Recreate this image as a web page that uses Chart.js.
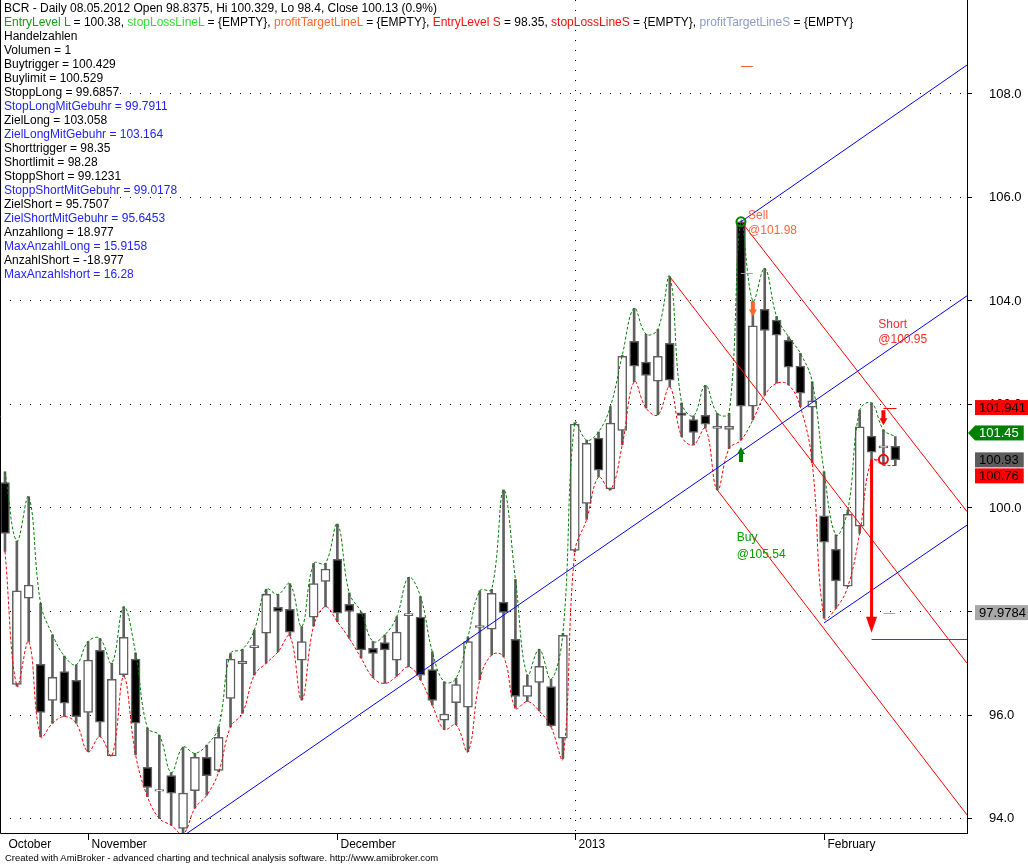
<!DOCTYPE html>
<html>
<head>
<meta charset="utf-8">
<title>BCR - Daily</title>
<script src="https://cdn.jsdelivr.net/npm/chart.js@4.4.0/dist/chart.umd.min.js"></script>
<style>
    html, body { margin: 0; padding: 0; background: #fff; }
    #wrap { position: relative; width: 1028px; height: 865px; overflow: hidden; font-family: "Liberation Sans", Arial, sans-serif; }
    #chart { position: absolute; left: 0; top: 0; }
    #info { position: absolute; left: 4px; top: 1px; font-size: 12px; line-height: 14px; color: #000; white-space: nowrap; }
    #info span.t { background: #fff; }
    .blue { color: #2323ff; }
    #footer { position: absolute; left: 5px; top: 852px; font-size: 9px; line-height: 12px; white-space: nowrap; transform-origin: left top; }
</style>
</head>
<body>
<div id="wrap">
    <canvas id="chart" width="1028" height="865"></canvas>
    <div id="info">
        <div><span class="t">BCR - Daily 08.05.2012 Open 98.8375, Hi 100.329, Lo 98.4, Close 100.13 (0.9%)</span></div>
        <div><span class="t"><span style="color:#12a012">EntryLevel L</span> = 100.38, <span style="color:#2ee02e">stopLossLineL</span> = {EMPTY}, <span style="color:#ff6a2a">profitTargetLineL</span> = {EMPTY}, <span style="color:#ff1010">EntryLevel S</span> = 98.35, <span style="color:#ee1010">stopLossLineS</span> = {EMPTY}, <span style="color:#8c9cc4">profitTargetLineS</span> = {EMPTY}</span></div>
        <div><span class="t">Handelzahlen</span></div>
        <div><span class="t">Volumen = 1</span></div>
        <div><span class="t">Buytrigger = 100.429</span></div>
        <div><span class="t">Buylimit = 100.529</span></div>
        <div><span class="t">StoppLong = 99.6857</span></div>
        <div><span class="t blue">StopLongMitGebuhr = 99.7911</span></div>
        <div><span class="t">ZielLong = 103.058</span></div>
        <div><span class="t blue">ZielLongMitGebuhr = 103.164</span></div>
        <div><span class="t">Shorttrigger = 98.35</span></div>
        <div><span class="t">Shortlimit = 98.28</span></div>
        <div><span class="t">StoppShort = 99.1231</span></div>
        <div><span class="t blue">StoppShortMitGebuhr = 99.0178</span></div>
        <div><span class="t">ZielShort = 95.7507</span></div>
        <div><span class="t blue">ZielShortMitGebuhr = 95.6453</span></div>
        <div><span class="t">Anzahllong = 18.977</span></div>
        <div><span class="t blue">MaxAnzahlLong = 15.9158</span></div>
        <div><span class="t">AnzahlShort = -18.977</span></div>
        <div><span class="t blue">MaxAnzahlshort = 16.28</span></div>
    </div>
    <div id="footer">Created with AmiBroker - advanced charting and technical analysis software. http://www.amibroker.com</div>
</div>

<script>
// ---- daily bars, Oct 2012 .. Feb 2013 (index = trading day) ----
const openP = [
    100.49, 96.59, 98.26, 96.98, 96.28, 96.84, 96.67, 96.05, 97.25, 95.21,
    96.78, 97.08, 94.99, 94.53, 94.83, 93.81, 94.54, 95.18, 94.93, 96.32,
    96.99, 97.30, 97.58, 98.08, 98.04, 97.06, 97.89, 98.58, 99.01, 98.14,
    97.97, 97.29, 97.40, 97.06, 97.92, 97.89, 96.88, 95.90, 96.24, 96.15,
    97.69, 97.66, 98.18, 97.46, 96.36, 96.63, 96.55, 95.55, 99.18, 100.09,
    101.35, 100.37, 101.50, 103.22, 102.82, 102.45, 103.18, 101.84, 101.71, 101.79,
    101.54, 101.52, 105.53, 101.97, 103.84, 103.63, 103.24, 102.74, 101.95, 99.85,
    99.20, 98.49, 99.65, 101.39, 101.16, 101.19
];
const highP = [
    100.70, 99.36, 100.22, 98.16, 97.55, 97.14, 96.97, 97.42, 97.48, 97.00,
    98.09, 97.20, 95.75, 95.61, 94.89, 95.38, 95.26, 95.42, 95.77, 97.19,
    97.27, 97.64, 98.43, 98.33, 98.54, 97.71, 98.93, 98.93, 99.69, 98.36,
    97.99, 97.42, 97.55, 97.90, 98.66, 98.29, 97.22, 96.64, 96.71, 97.51,
    98.40, 98.43, 100.35, 98.62, 96.77, 97.27, 96.69, 97.58, 101.65, 101.31,
    101.47, 101.96, 102.95, 103.86, 103.36, 103.45, 104.47, 102.03, 101.78, 102.37,
    101.83, 101.83, 105.54, 104.00, 104.63, 103.70, 103.31, 102.99, 102.44, 100.70,
    99.48, 99.96, 101.89, 102.03, 101.51, 101.38
];
const lowP = [
    99.16, 96.56, 97.42, 95.58, 95.84, 95.97, 95.84, 95.29, 95.58, 95.21,
    96.74, 95.23, 94.42, 94.00, 93.87, 93.70, 94.20, 94.45, 94.90, 95.77,
    96.03, 96.77, 97.00, 97.22, 97.53, 96.29, 97.72, 98.09, 97.80, 97.48,
    97.10, 96.72, 96.61, 96.75, 96.93, 96.68, 96.19, 95.72, 95.81, 95.29,
    96.68, 97.16, 97.13, 96.13, 96.26, 96.08, 95.77, 95.16, 99.15, 99.78,
    100.60, 100.35, 101.22, 102.44, 101.93, 101.80, 102.34, 101.38, 101.22, 101.54,
    100.35, 101.15, 101.31, 101.70, 102.18, 102.41, 102.38, 101.96, 100.87, 97.87,
    98.06, 98.48, 99.51, 100.93, 100.83, 100.82
];
const closeP = [
    99.51, 98.40, 98.51, 96.05, 96.73, 96.23, 95.97, 97.06, 95.86, 96.69,
    97.50, 95.84, 94.60, 94.56, 94.49, 94.49, 95.18, 94.83, 95.57, 97.08,
    97.04, 97.34, 98.33, 98.00, 97.60, 97.42, 98.54, 98.82, 97.97, 98.00,
    97.26, 97.19, 97.26, 97.60, 97.96, 96.77, 96.28, 96.02, 96.59, 97.42,
    97.73, 98.35, 97.98, 96.36, 96.57, 96.94, 95.79, 97.54, 101.62, 101.25,
    100.73, 101.64, 102.93, 102.74, 102.56, 102.93, 102.47, 101.79, 101.46, 101.62,
    101.58, 101.58, 101.97, 103.52, 103.43, 103.34, 102.72, 102.22, 102.07, 99.34,
    98.59, 99.88, 101.57, 101.08, 101.20, 100.93
];

// axis
const xMin = -0.42, xMax = 81.04;
const yMin = 93.72, yMax = 109.816;
const yTicks = [94, 96, 98, 100, 102, 104, 106, 108];
const monthIdx = [0, 7, 28, 48, 69];
const monthNames = ['October', 'November', 'December', '2013', 'February'];
const yearIdx = 48;

// trend lines [i1, p1, i2, p2]
const blueLines = [[15, 93.66, 81.04, 104.10], [62, 105.53, 81.04, 108.56], [69, 97.78, 81.04, 99.67]];
const redLines = [[56, 104.47, 81.04, 97.0], [62, 105.54, 81.04, 99.93], [60, 100.35, 81.04, 94.07]];

// signals
const circleMarks = [[62, 105.53, '#008000'], [74, 100.94, '#ff0000']];
const smallArrows = [[62, 101.18, 'up', '#008000'], [63, 103.70, 'down', '#ff6428'], [74, 101.60, 'down', '#ff0000']];
const targetArrow = [73, 100.93, 97.59];   // index, from, to
const targetLevel = [73, 81.04, 97.46];
const levelDashes = [[62, 63, 108.55, '#ff6030'], [62, 63, 104.54, '#44e044'], [74, 75.1, 101.93, '#ff0000'], [74, 75, 97.97, '#a8a8a8']];
const signalTexts = [
    ['Sell', 62.6, 105.64, '#ff6440'], ['@101.98', 62.6, 105.35, '#ff6440'],
    ['Short', 73.57, 103.54, '#ff2a2a'], ['@100.95', 73.57, 103.26, '#ff2a2a'],
    ['Buy', 61.64, 99.42, '#00a000'], ['@105.54', 61.64, 99.09, '#00a000']
];
const priceBoxes = [
    [101.941, '#ff0000', '#000'],
    [101.45, '#008000', '#fff'],
    [100.93, '#5c5c5c', '#000'],
    [100.76, '#ff0000', '#000'],
    [97.9784, '#a8a8a8', '#000']
];

const FONT = '"Liberation Sans", Arial, sans-serif';

function xy(arr) {
    return arr.map((v, i) => ({ x: i, y: v }));
}

function segment(l, color) {
    return {
        type: 'line',
        data: [{ x: l[0], y: l[1] }, { x: l[2], y: l[3] }],
        borderColor: color,
        borderWidth: 1,
        pointRadius: 0,
        order: 1,
    };
}

function drawArrow(ctx, x, yTip, dir, len, shaftW, headW, headH, color) {
    // dir 1 = pointing down, -1 = pointing up
    const yBase = yTip - dir * headH;
    const yEnd = yTip - dir * len;
    ctx.fillStyle = color;
    ctx.beginPath();
    ctx.moveTo(x, yTip);
    ctx.lineTo(x - headW / 2, yBase);
    ctx.lineTo(x - shaftW / 2, yBase);
    ctx.lineTo(x - shaftW / 2, yEnd);
    ctx.lineTo(x + shaftW / 2, yEnd);
    ctx.lineTo(x + shaftW / 2, yBase);
    ctx.lineTo(x + headW / 2, yBase);
    ctx.closePath();
    ctx.fill();
}

/* ---- AmiBroker style extras ---- */
const amiPlugin = {
    id: 'ami',
    beforeDatasetsDraw(chart) {
        const { ctx, chartArea: a, scales: { x } } = chart;
        ctx.save();
        ctx.strokeStyle = '#000';
        ctx.lineWidth = 1;
        ctx.setLineDash([1, 9]);
        const px = Math.round(x.getPixelForValue(yearIdx)) + 0.5;
        ctx.beginPath();
        ctx.moveTo(px, a.top);
        ctx.lineTo(px, a.bottom);
        ctx.stroke();
        ctx.restore();
    },
    afterDatasetsDraw(chart) {
        const { ctx, chartArea: a, scales: { x, y } } = chart;
        ctx.save();

        // level dashes
        levelDashes.forEach(d => {
            const yy = Math.round(y.getPixelForValue(d[2])) + 0.5;
            ctx.strokeStyle = d[3];
            ctx.lineWidth = 1;
            ctx.beginPath();
            ctx.moveTo(x.getPixelForValue(d[0]), yy);
            ctx.lineTo(x.getPixelForValue(d[1]), yy);
            ctx.stroke();
        });

        // target level + big arrow
        const ty = Math.round(y.getPixelForValue(targetLevel[2])) + 0.5;
        ctx.strokeStyle = '#ff0000';
        ctx.beginPath();
        ctx.moveTo(x.getPixelForValue(targetLevel[0]), ty);
        ctx.lineTo(Math.min(a.right, x.getPixelForValue(targetLevel[1])), ty);
        ctx.stroke();
        const ax = x.getPixelForValue(targetArrow[0]);
        const y1 = y.getPixelForValue(targetArrow[1]);
        const y2 = y.getPixelForValue(targetArrow[2]);
        drawArrow(ctx, ax, y2, 1, y2 - y1, 3, 11, 16, '#ff0000');

        // small signal arrows
        smallArrows.forEach(s => {
            const dir = s[2] === 'down' ? 1 : -1;
            drawArrow(ctx, x.getPixelForValue(s[0]), y.getPixelForValue(s[1]), dir, 15, 4, 8, 7, s[3]);
        });

        // circles
        circleMarks.forEach(c => {
            const cx = x.getPixelForValue(c[0]);
            const cy = y.getPixelForValue(c[1]);
            ctx.strokeStyle = c[2];
            ctx.lineWidth = 2;
            ctx.beginPath();
            ctx.arc(cx, cy, 4.5, 0, Math.PI * 2);
            ctx.stroke();
            if (c[2] === '#ff0000') {
                ctx.lineWidth = 1;
                ctx.beginPath();
                ctx.moveTo(cx - 9, cy + 0.5);
                ctx.lineTo(cx - 5, cy + 0.5);
                ctx.stroke();
            }
        });

        // signal texts
        ctx.font = '12px ' + FONT;
        ctx.textAlign = 'left';
        ctx.textBaseline = 'middle';
        signalTexts.forEach(t => {
            ctx.fillStyle = t[3];
            ctx.fillText(t[0], x.getPixelForValue(t[1]), y.getPixelForValue(t[2]));
        });
        ctx.restore();
    },
    afterDraw(chart) {
        const { ctx, chartArea: a, scales: { x, y } } = chart;
        ctx.save();

        // frame
        ctx.strokeStyle = '#000';
        ctx.lineWidth = 1;
        ctx.beginPath();
        ctx.moveTo(0.5, a.top);
        ctx.lineTo(0.5, a.bottom + 0.5);
        ctx.lineTo(a.right + 0.5, a.bottom + 0.5);
        ctx.stroke();

        // month ticks + labels
        ctx.font = '12px ' + FONT;
        ctx.fillStyle = '#000';
        ctx.textAlign = 'left';
        ctx.textBaseline = 'middle';
        monthIdx.forEach((m, k) => {
            const px = Math.round(x.getPixelForValue(m)) + 0.5;
            if (k > 0) {
                ctx.beginPath();
                ctx.moveTo(px, a.bottom);
                ctx.lineTo(px, a.bottom + 7);
                ctx.stroke();
            }
            ctx.fillText(monthNames[k], px + 3, a.bottom + 12);
        });

        // price boxes on the axis
        ctx.font = '13px ' + FONT;
        ctx.textBaseline = 'middle';
        let prevBottom = -Infinity;
        priceBoxes.forEach(b => {
            const label = String(b[0]);
            const w = ctx.measureText(label).width + 9;
            const h = 15;
            let top = y.getPixelForValue(b[0]) - h / 2;
            if (top < prevBottom + 1) top = prevBottom + 1;
            prevBottom = top + h;
            const left = a.right + 8;
            ctx.fillStyle = b[1];
            ctx.fillRect(left, top, w, h);
            if (b[2] === '#fff') {
                ctx.beginPath();
                ctx.moveTo(a.right + 1, top + h / 2);
                ctx.lineTo(left, top);
                ctx.lineTo(left, top + h);
                ctx.closePath();
                ctx.fill();
            }
            ctx.fillStyle = b[2];
            ctx.fillText(label, left + 4, top + h / 2 + 0.5);
        });
        ctx.restore();
    }
};

const bodyFill = closeP.map((c, i) => (c >= openP[i] ? '#ffffff' : '#000000'));

const datasets = [
    {
        type: 'line',
        label: 'upper',
        data: xy(highP),
        borderColor: '#008000',
        borderWidth: 1,
        borderDash: [3, 2],
        pointRadius: 0,
        tension: 0.4,
        order: 3,
    },
    {
        type: 'line',
        label: 'lower',
        data: xy(lowP),
        borderColor: '#ff0000',
        borderWidth: 1,
        borderDash: [3, 2],
        pointRadius: 0,
        tension: 0.4,
        order: 3,
    },
    {
        type: 'bar',
        label: 'wick',
        data: lowP.map((l, i) => ({ x: i, y: [l, highP[i]] })),
        backgroundColor: '#606060',
        barThickness: 2,
        grouped: false,
        order: 6,
    },
    {
        type: 'bar',
        label: 'body',
        data: openP.map((o, i) => ({ x: i, y: [o, closeP[i]] })),
        backgroundColor: bodyFill,
        borderColor: '#606060',
        borderWidth: 1.5,
        borderSkipped: false,
        barThickness: 9,
        grouped: false,
        order: 5,
    },
];
blueLines.forEach(l => datasets.push(segment(l, '#0000ff')));
redLines.forEach(l => datasets.push(segment(l, '#ff0000')));

new Chart(document.getElementById('chart'), {
    type: 'bar',
    data: { datasets },
    options: {
        responsive: false,
        animation: false,
        devicePixelRatio: 1,
        events: [],
        layout: { padding: { left: 0, right: 0, top: 0, bottom: 32 }, autoPadding: false },
        plugins: { legend: { display: false }, tooltip: { enabled: false } },
        scales: {
            x: { type: 'linear', display: false, min: xMin, max: xMax, offset: false },
            y: {
                position: 'right',
                min: yMin,
                max: yMax,
                afterFit(s) {
                    s.width = 61;
                    s.paddingTop = 0;
                    s.paddingBottom = 0;
                },
                afterBuildTicks(s) { s.ticks = yTicks.map(v => ({ value: v })); },
                grid: { color: '#000', lineWidth: 1, tickLength: 5, tickColor: '#000' },
                border: { display: true, color: '#000', width: 1, dash: [1, 9] },
                ticks: {
                    padding: 17,
                    color: '#000',
                    font: { family: 'Liberation Sans', size: 13 },
                    callback: v => v.toFixed(1),
                },
            },
        },
    },
    plugins: [amiPlugin],
});

// squeeze the footer to the original width
const footer = document.getElementById('footer');
footer.style.transform = 'scaleX(' + (433 / footer.scrollWidth) + ')';
</script>
</body>
</html>
